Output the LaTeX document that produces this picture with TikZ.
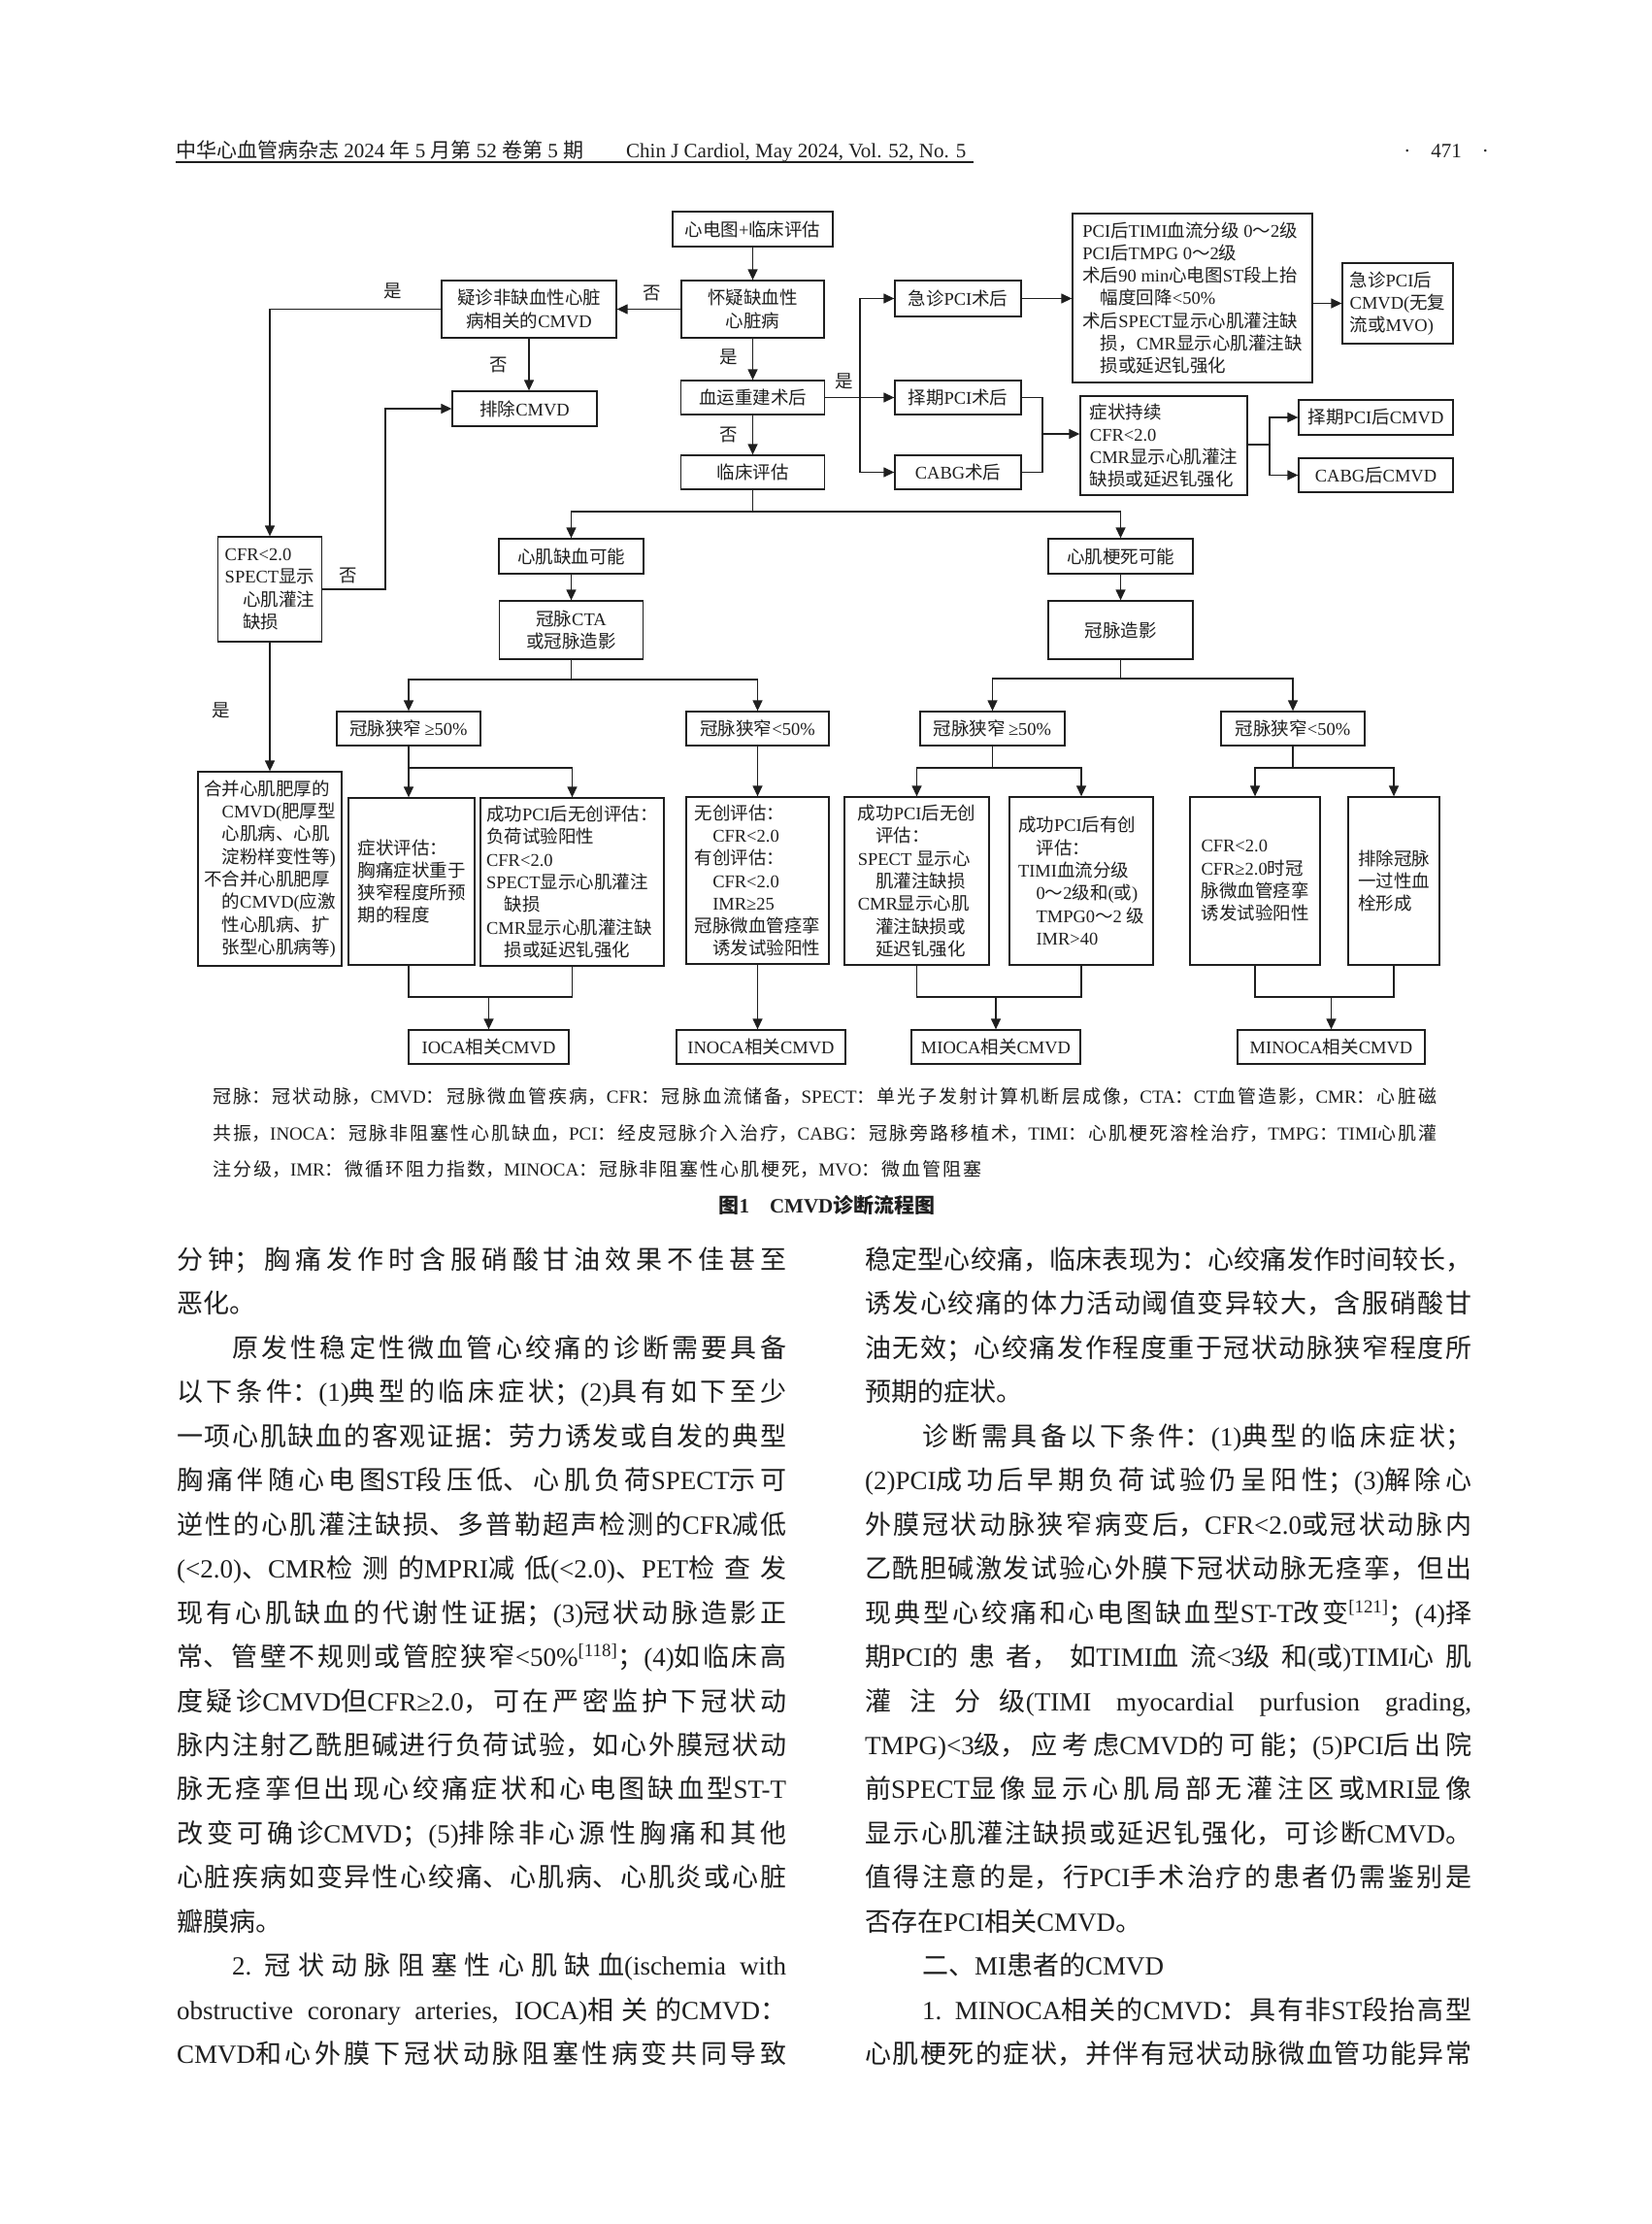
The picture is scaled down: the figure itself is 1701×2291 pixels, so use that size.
\documentclass[tikz,border=0pt]{standalone}
\usepackage{fontspec}
\usetikzlibrary{arrows.meta}
\setmainfont{Liberation Serif}
\newfontfamily\cjkfont{Noto Sans CJK SC}
% 汉字自动切换到中文字体
\makeatletter
\newXeTeXintercharclass\cjkcls
\def\cjkrange#1#2{\count@=#1\relax
  \loop\XeTeXcharclass\count@=\cjkcls
  \ifnum\count@<#2\relax\advance\count@\@ne\repeat}
\cjkrange{"3000}{"303F}
\cjkrange{"4E00}{"9FFF}
\cjkrange{"FF00}{"FFEF}
\XeTeXinterchartoks 0 \cjkcls = {\cjkfont}
\XeTeXinterchartoks 4095 \cjkcls = {\cjkfont}
\XeTeXinterchartoks \cjkcls 0 = {\rmfamily}
\XeTeXinterchartoks \cjkcls 4095 = {\rmfamily}
\makeatother
\XeTeXinterchartokenstate=1
\XeTeXlinebreaklocale "zh"
\colorlet{ink}{black!88}
\newcommand{\flowfont}{\fontsize{18.5}{23.3}\selectfont}
\newcommand{\bodyfont}{\fontsize{27}{45}\selectfont}
\newcommand{\capfont}{\fontsize{19}{37}\selectfont}
\newcommand{\headfont}{\fontsize{21}{25}\selectfont}

\begin{document}
\begin{tikzpicture}[x=1pt, y=-1pt,
    >={Triangle[length=11pt,width=10pt]},
    box/.style={draw=ink, line width=1.3pt, font=\flowfont, text=ink, inner sep=2pt, align=center},
    lbox/.style={box, align=left},
    sz/.style 2 args={minimum width=#1pt, minimum height=#2pt},
    link/.style={draw=ink, line width=1.3pt},
    yn/.style={font=\flowfont, text=ink, inner sep=0pt},
    jline/.style={anchor=base west, inner sep=0pt, text width=#1pt, text=ink,
      execute at begin node={\parindent=0pt\parfillskip=0pt\XeTeXlinebreakskip=0pt plus 1fil\relax}},
    bline/.style={jline=#1, font=\bodyfont, execute at begin node={\spaceskip=6.75pt plus 1fil\relax}},
    cline/.style={jline=#1, font=\capfont},
    pline/.style={anchor=base west, inner sep=0pt, font=\bodyfont, text=ink},
    hline/.style={inner sep=0pt, font=\headfont, text=ink}]
  \fill[white] (0,0) rectangle (1701,2291);
  \useasboundingbox (0,0) rectangle (1701,2291);

  % 页眉
  \node[hline, anchor=base west] (hdcn) at (181,162) {中华心血管病杂志 2024 年 5 月第 52 卷第 5 期};
  \node[hline, anchor=base west] (hden) at (645,162) {Chin J Cardiol, May 2024, Vol. 52, No. 5};
  \node[hline, anchor=base east] (pgno) at (1534,162) {·\quad 471\quad ·};
  \draw[ink, line width=1.5pt] (181,167) -- (1003,167);

  % 流程图上部
  \node[box, sz={165}{36}] (ecg) at (775.5,236) {心电图+临床评估};
  \node[box, sz={147}{59}] (suspect) at (775.5,318.5) {怀疑缺血性\\心脏病};
  \node[box, sz={180}{59}] (nonisch) at (545,318.5) {疑诊非缺血性心脏\\病相关的CMVD};
  \node[box, sz={149}{36}] (exclude) at (540.5,421) {排除CMVD};
  \node[box, sz={148}{35}] (revasc) at (775.5,409.5) {血运重建术后};
  \node[box, sz={148}{35}] (clinic) at (775.5,486.5) {临床评估};

  % 术后分支
  \node[box, sz={130}{37}] (emerg) at (987,307.5) {急诊PCI术后};
  \node[box, sz={130}{35}] (elect) at (987,409.5) {择期PCI术后};
  \node[box, sz={130}{35}] (cabg) at (987,486.5) {CABG术后};
  \node[lbox, sz={247}{174}] (crit) at (1228.5,307) {PCI后TIMI血流分级 0～2级\\PCI后TMPG 0～2级\\术后90 min心电图ST段上抬\\\hspace*{1em}幅度回降<50\%\\术后SPECT显示心肌灌注缺\\\hspace*{1em}损，CMR显示心肌灌注缺\\\hspace*{1em}损或延迟钆强化};
  \node[lbox, sz={114}{83}] (emcmvd) at (1440,312.5) {急诊PCI后\\CMVD(无复\\流或MVO)};
  \node[lbox, sz={172}{102}] (persist) at (1199,459) {症状持续\\CFR<2.0\\CMR显示心肌灌注\\缺损或延迟钆强化};
  \node[box, sz={159}{36}] (elcmvd) at (1417.5,430) {择期PCI后CMVD};
  \node[box, sz={159}{35}] (cbcmvd) at (1417.5,489.5) {CABG后CMVD};

  % 左侧分支
  \node[lbox, sz={107}{108}] (cfr) at (278,607) {CFR<2.0\\SPECT显示\\\hspace*{1em}心肌灌注\\\hspace*{1em}缺损};
  \node[lbox, sz={148}{200}] (hyper) at (278,895) {合并心肌肥厚的\\\hspace*{1em}CMVD(肥厚型\\\hspace*{1em}心肌病、心肌\\\hspace*{1em}淀粉样变性等)\\不合并心肌肥厚\\\hspace*{1em}的CMVD(应激\\\hspace*{1em}性心肌病、扩\\\hspace*{1em}张型心肌病等)};

  % 中部
  \node[box, sz={149}{36}] (ischpos) at (588.5,573) {心肌缺血可能};
  \node[box, sz={148}{60}] (cta) at (588.5,649) {冠脉CTA\\或冠脉造影};
  \node[box, sz={149}{36}] (infpos) at (1154.5,573) {心肌梗死可能};
  \node[box, sz={149}{60}] (angio) at (1154.5,649) {冠脉造影};
  \node[box, sz={148}{35}] (stA) at (421,750.5) {冠脉狭窄\,≥50\%};
  \node[box, sz={147}{35}] (stB) at (780.5,750.5) {冠脉狭窄<50\%};
  \node[box, sz={149}{35}] (stC) at (1022.5,750.5) {冠脉狭窄\,≥50\%};
  \node[box, sz={148}{35}] (stD) at (1332,750.5) {冠脉狭窄<50\%};

  % 下部评估
  \node[lbox, sz={130}{172}] (symp) at (424,908) {症状评估：\\胸痛症状重于\\狭窄程度所预\\期的程度};
  \node[lbox, sz={189}{173}] (iocanon) at (589.5,908.5) {成功PCI后无创评估：\\负荷试验阳性\\CFR<2.0\\SPECT显示心肌灌注\\\hspace*{1em}缺损\\CMR显示心肌灌注缺\\\hspace*{1em}损或延迟钆强化};
  \node[lbox, sz={147}{172}] (inocaev) at (780.5,907) {无创评估：\\\hspace*{1em}CFR<2.0\\有创评估：\\\hspace*{1em}CFR<2.0\\\hspace*{1em}IMR≥25\\冠脉微血管痉挛\\\hspace*{1em}诱发试验阳性};
  \node[lbox, sz={149}{173}] (mionon) at (944.5,907.5) {成功PCI后无创\\\hspace*{1em}评估：\\SPECT 显示心\\\hspace*{1em}肌灌注缺损\\CMR显示心肌\\\hspace*{1em}灌注缺损或\\\hspace*{1em}延迟钆强化};
  \node[lbox, sz={148}{173}] (mioinv) at (1114,907.5) {成功PCI后有创\\\hspace*{1em}评估：\\TIMI血流分级\\\hspace*{1em}0～2级和(或)\\\hspace*{1em}TMPG0～2 级\\\hspace*{1em}IMR>40};
  \node[lbox, sz={134}{173}] (mcfr) at (1293,907.5) {CFR<2.0\\CFR≥2.0时冠\\脉微血管痉挛\\诱发试验阳性};
  \node[lbox, sz={94}{173}] (mthromb) at (1436,907.5) {排除冠脉\\一过性血\\栓形成};

  % 结论
  \node[box, sz={165}{35}] (ioca) at (503.5,1078.5) {IOCA相关CMVD};
  \node[box, sz={174}{35}] (inoca) at (784,1078.5) {INOCA相关CMVD};
  \node[box, sz={174}{35}] (mioca) at (1026,1078.5) {MIOCA相关CMVD};
  \node[box, sz={193}{35}] (minoca) at (1371.5,1078.5) {MINOCA相关CMVD};

  % 是/否
  \node[yn] (y1) at (405,300) {是};
  \node[yn] (n1) at (672,302) {否};
  \node[yn] (n2) at (514,376) {否};
  \node[yn] (y2) at (751,368) {是};
  \node[yn] (n3) at (751,448) {否};
  \node[yn] (y3) at (870,393) {是};
  \node[yn] (n4) at (359,593) {否};
  \node[yn] (y4) at (228,732) {是};

  % 上部连线
  \draw[link,->] (ecg) -- (suspect);
  \draw[link,->] (suspect) -- (nonisch);
  \draw[link,->] (nonisch.south) -- (nonisch.south |- exclude.north);
  \draw[link,->] (nonisch.west) -| (cfr.north);
  \draw[link,->] (suspect) -- (revasc);
  \draw[link,->] (revasc) -- (clinic);
  \coordinate (nobend) at (397,421);
  \draw[link,->] (cfr.east) -| (nobend) -- (exclude.west);
  \draw[link,->] (cfr) -- (hyper);

  % 血运重建分支
  \coordinate (rvsplit) at (886,409.5);
  \draw[link,->] (revasc) -- (elect);
  \draw[link,->] (rvsplit) |- (emerg.west);
  \draw[link,->] (rvsplit) |- (cabg.west);
  \draw[link,->] (emerg) -- (emerg -| crit.west);
  \draw[link,->] (crit.east |- emcmvd) -- (emcmvd);
  \coordinate (pcimerge) at (1074,447);
  \draw[link] (elect.east) -| (pcimerge) |- (cabg.east);
  \draw[link,->] (pcimerge) -- (pcimerge -| persist.west);
  \coordinate (persplit) at (1308,458);
  \draw[link] (persist.east |- persplit) -- (persplit);
  \draw[link,->] (persplit) |- (elcmvd.west);
  \draw[link,->] (persplit) |- (cbcmvd.west);

  % 临床评估分支
  \coordinate (clsplit) at (775.5,527);
  \draw[link] (clinic) -- (clsplit);
  \draw[link,->] (clsplit) -| (ischpos.north);
  \draw[link,->] (clsplit) -| (infpos.north);
  \draw[link,->] (ischpos) -- (cta);
  \draw[link,->] (infpos) -- (angio);
  \coordinate (ctasplit) at (588.5,700);
  \draw[link] (cta) -- (ctasplit);
  \draw[link,->] (ctasplit) -| (stA.north);
  \draw[link,->] (ctasplit) -| (stB.north);
  \coordinate (agsplit) at (1154.5,699);
  \draw[link] (angio) -- (agsplit);
  \draw[link,->] (agsplit) -| (stC.north);
  \draw[link,->] (agsplit) -| (stD.north);

  % 狭窄分支
  \coordinate (stAsplit) at (421,791);
  \draw[link] (stA) -- (stAsplit);
  \draw[link,->] (stAsplit) -- (stAsplit |- symp.north);
  \draw[link,->] (stAsplit) -| (iocanon.north);
  \draw[link,->] (stB) -- (inocaev);
  \coordinate (stCsplit) at (1022.5,791);
  \draw[link] (stC) -- (stCsplit);
  \draw[link,->] (stCsplit) -| (mionon.north);
  \draw[link,->] (stCsplit) -| (mioinv.north);
  \coordinate (stDsplit) at (1332,791);
  \draw[link] (stD) -- (stDsplit);
  \draw[link,->] (stDsplit) -| (mcfr.north);
  \draw[link,->] (stDsplit) -| (mthromb.north);

  % 汇合到结论
  \coordinate (iocajoin) at (503.5,1027);
  \draw[link] (stAsplit |- symp.south) |- (iocajoin) -| (iocanon.south);
  \draw[link,->] (iocajoin) -- (ioca);
  \draw[link,->] (inocaev) -- (inocaev |- inoca.north);
  \coordinate (miojoin) at (1026,1027);
  \draw[link] (mionon.south) |- (miojoin) -| (mioinv.south);
  \draw[link,->] (miojoin) -- (mioca);
  \coordinate (minjoin) at (1371.5,1027);
  \draw[link] (mcfr.south) |- (minjoin) -| (mthromb.south);
  \draw[link,->] (minjoin) -- (minoca);

  % 图注
  \node[cline=1261] (cap1) at (219,1136) {冠脉：冠状动脉，CMVD：冠脉微血管疾病，CFR：冠脉血流储备，SPECT：单光子发射计算机断层成像，CTA：CT血管造影，CMR：心脏磁};
  \node[cline=1261] (cap2) at (219,1174) {共振，INOCA：冠脉非阻塞性心肌缺血，PCI：经皮冠脉介入治疗，CABG：冠脉旁路移植术，TIMI：心肌梗死溶栓治疗，TMPG：TIMI心肌灌};
  \node[cline=792] (cap3) at (219,1211) {注分级，IMR：微循环阻力指数，MINOCA：冠脉非阻塞性心肌梗死，MVO：微血管阻塞};
  \node[anchor=base, inner sep=0pt, font=\fontsize{21}{25}\selectfont\bfseries, text=ink] (captitle) at (852,1249) {图1\quad CMVD诊断流程图};

  % 正文左栏
  \node[bline=628] (la1) at (182,1307) {分钟；胸痛发作时含服硝酸甘油效果不佳甚至};
  \node[pline] (la2) at (182,1352) {恶化。};
  \node[bline=571] (la3) at (239,1398) {原发性稳定性微血管心绞痛的诊断需要具备};
  \node[bline=628] (la4) at (182,1443) {以下条件：(1)典型的临床症状；(2)具有如下至少};
  \node[bline=628] (la5) at (182,1489) {一项心肌缺血的客观证据：劳力诱发或自发的典型};
  \node[bline=628] (la6) at (182,1534) {胸痛伴随心电图ST段压低、心肌负荷SPECT示可};
  \node[bline=628] (la7) at (182,1580) {逆性的心肌灌注缺损、多普勒超声检测的CFR减低};
  \node[bline=628] (la8) at (182,1625) {(<2.0)、CMR检测的MPRI减低(<2.0)、PET检查发};
  \node[bline=628] (la9) at (182,1671) {现有心肌缺血的代谢性证据；(3)冠状动脉造影正};
  \node[bline=628] (la10) at (182,1716) {常、管壁不规则或管腔狭窄<50\%\textsuperscript{[118]}；(4)如临床高};
  \node[bline=628] (la11) at (182,1762) {度疑诊CMVD但CFR≥2.0，可在严密监护下冠状动};
  \node[bline=628] (la12) at (182,1807) {脉内注射乙酰胆碱进行负荷试验，如心外膜冠状动};
  \node[bline=628] (la13) at (182,1852) {脉无痉挛但出现心绞痛症状和心电图缺血型ST-T};
  \node[bline=628] (la14) at (182,1898) {改变可确诊CMVD；(5)排除非心源性胸痛和其他};
  \node[bline=628] (la15) at (182,1943) {心脏疾病如变异性心绞痛、心肌病、心肌炎或心脏};
  \node[pline] (la16) at (182,1989) {瓣膜病。};
  \node[bline=571] (la17) at (239,2034) {2. 冠状动脉阻塞性心肌缺血(ischemia with};
  \node[bline=628] (la18) at (182,2080) {obstructive coronary arteries, IOCA)相关的CMVD：};
  \node[bline=628] (la19) at (182,2125) {CMVD和心外膜下冠状动脉阻塞性病变共同导致};

  % 正文右栏
  \node[bline=625] (rb1) at (891,1307) {稳定型心绞痛，临床表现为：心绞痛发作时间较长，};
  \node[bline=625] (rb2) at (891,1352) {诱发心绞痛的体力活动阈值变异较大，含服硝酸甘};
  \node[bline=625] (rb3) at (891,1398) {油无效；心绞痛发作程度重于冠状动脉狭窄程度所};
  \node[pline] (rb4) at (891,1443) {预期的症状。};
  \node[bline=566] (rb5) at (950,1489) {诊断需具备以下条件：(1)典型的临床症状；};
  \node[bline=625] (rb6) at (891,1534) {(2)PCI成功后早期负荷试验仍呈阳性；(3)解除心};
  \node[bline=625] (rb7) at (891,1580) {外膜冠状动脉狭窄病变后，CFR<2.0或冠状动脉内};
  \node[bline=625] (rb8) at (891,1625) {乙酰胆碱激发试验心外膜下冠状动脉无痉挛，但出};
  \node[bline=625] (rb9) at (891,1671) {现典型心绞痛和心电图缺血型ST-T改变\textsuperscript{[121]}；(4)择};
  \node[bline=625] (rb10) at (891,1716) {期PCI的患者，如TIMI血流<3级和(或)TIMI心肌};
  \node[bline=625] (rb11) at (891,1762) {灌注分级(TIMI myocardial purfusion grading,};
  \node[bline=625] (rb12) at (891,1807) {TMPG)<3级，应考虑CMVD的可能；(5)PCI后出院};
  \node[bline=625] (rb13) at (891,1852) {前SPECT显像显示心肌局部无灌注区或MRI显像};
  \node[bline=625] (rb14) at (891,1898) {显示心肌灌注缺损或延迟钆强化，可诊断CMVD。};
  \node[bline=625] (rb15) at (891,1943) {值得注意的是，行PCI手术治疗的患者仍需鉴别是};
  \node[pline] (rb16) at (891,1989) {否存在PCI相关CMVD。};
  \node[pline] (rb17) at (950,2034) {二、MI患者的CMVD};
  \node[bline=566] (rb18) at (950,2080) {1. MINOCA相关的CMVD：具有非ST段抬高型};
  \node[bline=625] (rb19) at (891,2125) {心肌梗死的症状，并伴有冠状动脉微血管功能异常};
\end{tikzpicture}
\end{document}
